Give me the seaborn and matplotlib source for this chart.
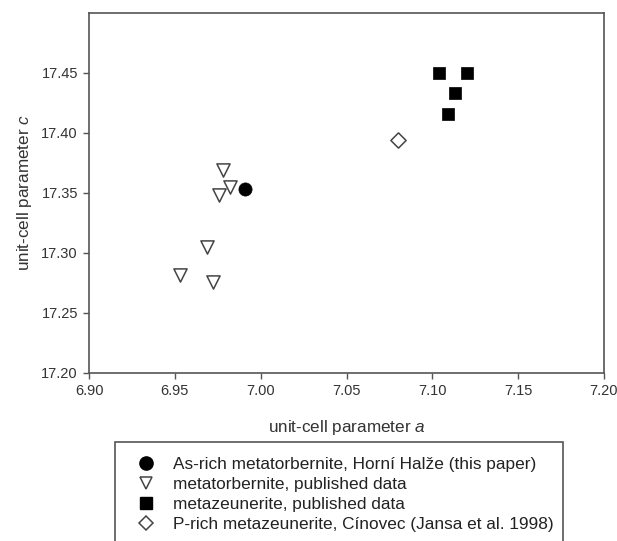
import pandas as pd
import matplotlib.pyplot as plt
import seaborn as sns
from matplotlib.lines import Line2D
from matplotlib.patches import Rectangle

# Unit-cell parameters
circle_a = [6.991]
circle_c = [17.353]

tri_a = [6.978, 6.982, 6.976, 6.969, 6.953, 6.972]
tri_c = [17.369, 17.355, 17.348, 17.305, 17.282, 17.276]

square_a = [7.104, 7.120, 7.113, 7.109]
square_c = [17.450, 17.450, 17.433, 17.416]

diamond_a = [7.080]
diamond_c = [17.394]

labels = [
    'As-rich metatorbernite, Horní Halže (this paper)',
    'metatorbernite, published data',
    'metazeunerite, published data',
    'P-rich metazeunerite, Cínovec (Jansa et al. 1998)',
]

sns.set_style('white')
plt.rcParams['font.family'] = ['Liberation Sans', 'DejaVu Sans']
plt.rcParams['mathtext.fontset'] = 'custom'
plt.rcParams['mathtext.it'] = 'Liberation Sans:italic'
plt.rcParams['mathtext.rm'] = 'Liberation Sans'

W, H = 617, 541
fig = plt.figure(figsize=(W / 100, H / 100), dpi=100)
ax = fig.add_axes([89 / W, 1 - 373 / H, (604 - 89) / W, (373 - 13) / H])

df_circle = pd.DataFrame({'a': circle_a, 'c': circle_c})
df_tri = pd.DataFrame({'a': tri_a, 'c': tri_c})
df_square = pd.DataFrame({'a': square_a, 'c': square_c})
df_diamond = pd.DataFrame({'a': diamond_a, 'c': diamond_c})

sns.scatterplot(data=df_tri, x='a', y='c', marker='v', s=90, facecolor='white',
                edgecolor='#444444', linewidth=1.1, ax=ax, zorder=3)
sns.scatterplot(data=df_circle, x='a', y='c', marker='o', s=90, color='black',
                edgecolor='black', linewidth=0.5, ax=ax, zorder=4)
sns.scatterplot(data=df_square, x='a', y='c', marker='s', s=80, color='black',
                edgecolor='black', linewidth=0.5, ax=ax, zorder=3)
sns.scatterplot(data=df_diamond, x='a', y='c', marker='D', s=60, facecolor='white',
                edgecolor='#444444', linewidth=1.1, ax=ax, zorder=3)

ax.set_xlim(6.90, 7.20)
ax.set_ylim(17.20, 17.50)
ax.set_xticks([6.90, 6.95, 7.00, 7.05, 7.10, 7.15, 7.20])
ax.set_yticks([17.20, 17.25, 17.30, 17.35, 17.40, 17.45])
ax.xaxis.set_major_formatter(plt.FormatStrFormatter('%.2f'))
ax.yaxis.set_major_formatter(plt.FormatStrFormatter('%.2f'))
ax.tick_params(axis='both', direction='out', length=4, width=1, color='#555555',
               labelsize=10.5, labelcolor='#333333', left=True, bottom=True, pad=4)
for sp in ax.spines.values():
    sp.set_color('#555555')
    sp.set_linewidth(1.2)

ax.set_xlabel('unit-cell parameter $a$', fontsize=12.3, color='#333333', labelpad=14)
ax.set_ylabel('unit-cell parameter $c$', fontsize=12.3, color='#333333', labelpad=5)

# legend frame, running off the bottom of the figure
fig.patches.append(Rectangle((115 / W, -0.05), (563 - 115) / W, 0.05 + 1 - 442 / H,
                             transform=fig.transFigure, fill=False,
                             edgecolor='#555555', linewidth=1.2))

handles = [
    Line2D([], [], linestyle='none', marker='o', markersize=9.5, color='black'),
    Line2D([], [], linestyle='none', marker='v', markersize=9, markerfacecolor='white',
           markeredgecolor='#444444', markeredgewidth=1.1),
    Line2D([], [], linestyle='none', marker='s', markersize=8.5, color='black'),
    Line2D([], [], linestyle='none', marker='D', markersize=7.5, markerfacecolor='white',
           markeredgecolor='#444444', markeredgewidth=1.1),
]
leg = fig.legend(handles, labels, loc='upper left', bbox_to_anchor=(129.5 / W, 1 - 457 / H),
                 borderaxespad=0, frameon=False, fontsize=12.4, borderpad=0,
                 labelspacing=0.28, handletextpad=0.6, handlelength=1.9)
for t in leg.get_texts():
    t.set_color('#222222')

fig.savefig('out.png', dpi=100)
